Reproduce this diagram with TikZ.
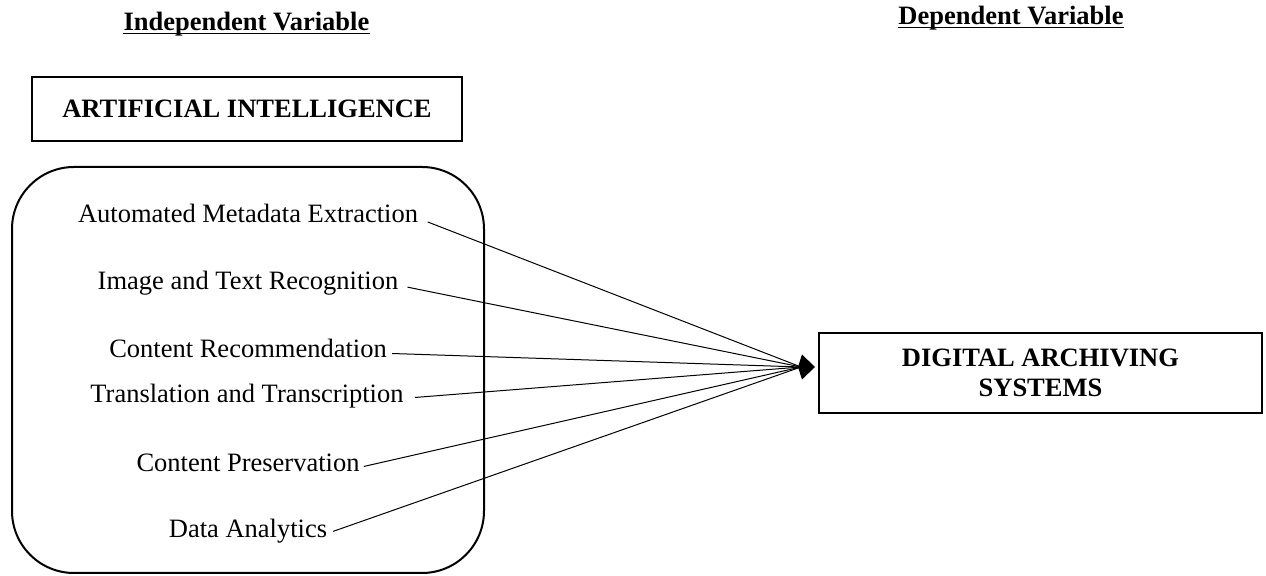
\documentclass[tikz,border=0pt]{standalone}
\usepackage{fontspec}
\setmainfont{Liberation Serif}
\usetikzlibrary{arrows.meta}
\begin{document}
\begin{tikzpicture}[x=0.5pt,y=-0.5pt,
  txt/.style={font=\fontsize{13.25pt}{15pt}\selectfont, inner sep=0pt, text height=7.3pt, text depth=2.65pt, anchor=base},
  head/.style={font=\fontsize{13.25pt}{15pt}\selectfont\bfseries, inner sep=0pt, anchor=base},
  boxnode/.style={draw, line width=1pt, font=\fontsize{13.25pt}{15pt}\selectfont\bfseries, align=center, inner sep=0pt},
  conn/.style={line width=0.5pt},
  uline/.style={line width=0.75pt}]
\useasboundingbox (0,0) rectangle (1266,576);

% headers
\node[head] (h1) at (246.5,31) {Independent Variable};
\draw[uline] ([yshift=-1.2pt]h1.base west) -- ([yshift=-1.2pt]h1.base east);
\node[head] (h2) at (1011,25) {Dependent Variable};
\draw[uline] ([yshift=-1.2pt]h2.base west) -- ([yshift=-1.2pt]h2.base east);

% boxes
\node[boxnode, minimum width=215pt, minimum height=32pt] (ai) at (247,109) {ARTIFICIAL INTELLIGENCE};
\node[boxnode, minimum width=221.5pt, minimum height=40pt] (dig) at (1040.5,373) {DIGITAL ARCHIVING\\SYSTEMS};

% group container
\node[draw, line width=1pt, rounded corners=31pt, minimum width=236pt, minimum height=203pt, inner sep=0pt] (grp) at (248,370) {};

% items
\node[txt] (a1) at (248,223) {Automated Metadata Extraction};
\node[txt] (a2) at (248,290) {Image and Text Recognition};
\node[txt] (a3) at (248,358) {Content Recommendation};
\node[txt] (a4) at (247,403) {Translation and Transcription};
\node[txt] (a5) at (248,472) {Content Preservation};
\node[txt] (a6) at (248,538) {Data Analytics};

\coordinate (C) at (801,367);

\draw[conn, shorten <=5pt] (a1.east) -- (C);
\draw[conn, shorten <=4.5pt] (a2.east) -- (C);
\draw[conn, shorten <=2.5pt] (a3.east) -- (C);
\draw[conn, shorten <=5.5pt] (a4.east) -- (C);
\draw[conn, shorten <=2pt] (a5.east) -- (C);
\draw[conn, shorten <=3pt] (a6.east) -- (C);

\draw[conn, -{Kite[length=8.5pt,width=12.5pt,inset=2pt]}, shorten >=1.5pt] ([xshift=-1pt]C) -- (dig.west |- C);
\end{tikzpicture}
\end{document}
